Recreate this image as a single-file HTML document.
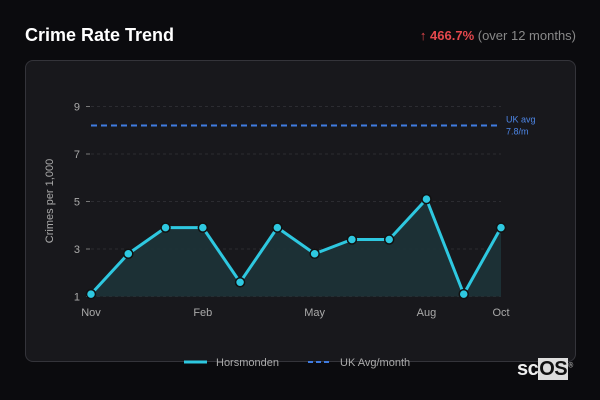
<!DOCTYPE html>
<html><head><meta charset="utf-8">
<style>
html,body{margin:0;padding:0;background:#0b0b0e;width:600px;height:400px;overflow:hidden;font-family:"Liberation Sans",sans-serif;}
#title{position:absolute;left:25px;top:25px;color:#fff;font-weight:bold;font-size:18px;}
#change{position:absolute;right:24px;top:28px;font-size:13px;color:#888;}
#change b{color:#e5484d;}
#card{position:absolute;left:25px;top:60px;width:549px;height:300px;background:#18181c;border:1px solid #34343a;border-radius:8px;}
svg{position:absolute;left:0;top:0;}
#logo{position:absolute;left:517px;top:358px;font-size:20px;font-weight:bold;color:#eee;letter-spacing:-0.5px;}
#logo span{background:#ddd;color:#111;padding:0 1px;}
</style></head><body>
<div id="title">Crime Rate Trend</div>
<div id="change"><b>↑ 466.7%</b> (over 12 months)</div>
<div id="card"></div>
<svg id="chart" width="600" height="400"></svg>
<div id="logo">sc<span>OS</span><sup style="font-size:7px;color:#aaa">®</sup></div>
<script>
const months=["Nov","Dec","Jan","Feb","Mar","Apr","May","Jun","Jul","Aug","Sep","Oct"];
const values=[1.1,2.8,3.9,3.9,1.6,3.9,2.8,3.4,3.4,5.1,1.1,3.9];
const ukAvg=[8.2];
const yTicks=[1,3,5,7,9];
const xTickLabels=["Nov","Feb","May","Aug","Oct"];
const xTickIdx=[0,3,6,9,11];
const ukLabel=["UK avg","7.8/m"];

const svg=document.getElementById('chart');
const NS="http://www.w3.org/2000/svg";
const x0=91,x1=501,yBase=296.5,yTop=106.5,vMin=1,vMax=9;
const xs=i=>x0+(x1-x0)*i/(months.length-1);
const ys=v=>yBase-(v-vMin)*(yBase-yTop)/(vMax-vMin);
function mk(t,a){const e=document.createElementNS(NS,t);for(const k in a)e.setAttribute(k,a[k]);svg.appendChild(e);return e;}

yTicks.forEach(v=>{
  const g=mk('line',{x1:x0,x2:x1,y1:ys(v),y2:ys(v),stroke:'#2c2c31','stroke-dasharray':'3,3'});
  
  
  const tk=mk('line',{x1:x0-5,x2:x0-1,y1:ys(v),y2:ys(v),stroke:'#777'});
  
  
  const t=mk('text',{x:x0-11,y:ys(v)+4,fill:'#aaa','font-size':11,'text-anchor':'end'});
  t.textContent=v;
  
  
});
xTickIdx.forEach((idx,k)=>{
  const t=mk('text',{x:xs(idx),y:316,fill:'#aaa','font-size':11,'text-anchor':'middle'});
  t.textContent=xTickLabels[k];
  
  
});
const yt=mk('text',{x:0,y:0,fill:'#aaa','font-size':11,'text-anchor':'middle',transform:'translate(53,201) rotate(-90)'});
yt.textContent='Crimes per 1,000';



let d='M'+xs(0)+','+yBase;
values.forEach((v,i)=>d+=' L'+xs(i)+','+ys(v));
d+=' L'+xs(values.length-1)+','+yBase+' Z';
const area=mk('path',{d:d,fill:'#1d3338',opacity:0.9});



const ua=mk('line',{x1:x0,x2:x1,y1:ys(ukAvg[0]),y2:ys(ukAvg[0]),stroke:'#3f7be0','stroke-width':2,'stroke-dasharray':'6,4'});


ukLabel.forEach((s,i)=>{
  const t=mk('text',{x:506,y:ys(ukAvg[0])-3+i*12,fill:'#4d86e6','font-size':9});
  t.textContent=s;
  
  
});

const ln=mk('polyline',{points:values.map((v,i)=>xs(i)+','+ys(v)).join(' '),fill:'none',stroke:'#2ec8e0','stroke-width':3,'stroke-linejoin':'round'});


values.forEach((v,i)=>{
  const c=mk('circle',{cx:xs(i),cy:ys(v),r:4.5,fill:'#2ec8e0',stroke:'#111',"stroke-width":1.5});
  
  
});

const l1=mk('line',{x1:184,x2:207,y1:362,y2:362,stroke:'#2ec8e0','stroke-width':3});


const t1=mk('text',{x:216,y:366,fill:'#aaa','font-size':11});
t1.textContent='Horsmonden';


const l2=mk('line',{x1:308,x2:332,y1:362,y2:362,stroke:'#3f7be0','stroke-width':2,'stroke-dasharray':'5,3'});


const t2=mk('text',{x:340,y:366,fill:'#aaa','font-size':11});
t2.textContent='UK Avg/month';


</script>
</body></html>
